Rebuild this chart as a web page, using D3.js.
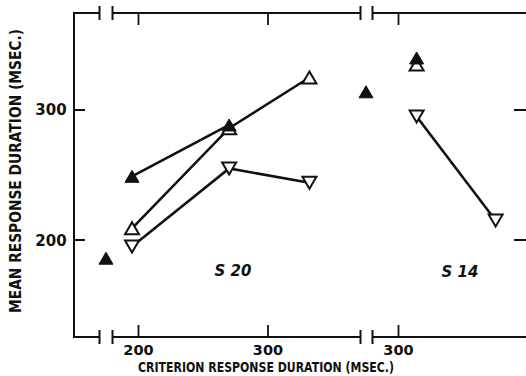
<!DOCTYPE html>
<html>
<head>
<meta charset="utf-8">
<script src="https://cdn.jsdelivr.net/npm/d3@7"></script>
<style>
  html, body { margin: 0; padding: 0; background: #fff; }
  svg text { font-family: "DejaVu Sans", sans-serif; font-weight: bold; fill: #111; }
</style>
</head>
<body>
<svg id="chart" width="526" height="376"></svg>
<script>
// Criterion response duration (msec) for S 20 panel, and the three conditions
const s20Criterion = [195, 270, 332];
const filledUpS20 = [249, 288.5];          // first two criteria only
const openUpS20 = [209, 286, 325];
const openDownS20 = [195, 255, 244];

// S 14 panel
const s14Criterion = [314, 375];
const filledUpS14 = [340];
const openUpS14 = [335];
const openDownS14 = [295, 215];

// Unrestricted (no criterion) points, drawn inside the axis breaks
const baselineS20 = [186];
const baselineS14 = [314];

const yTicks = [200, 300];
const xTicksS20 = [200, 300];
const xTicksS14 = [300];

const svg = d3.select("#chart");
const ink = "#111";

const plotTop = 13, plotBottom = 337, plotLeft = 74;
const y = d3.scaleLinear().domain([125.4, 374.6]).range([plotBottom, plotTop]);
const xS20 = d3.scaleLinear().domain([200, 300]).range([138.5, 268]);
const xS14 = d3.scaleLinear().domain([300, 400]).range([398.5, 528]);
const break1 = [99.5, 112.5], break2 = [360.5, 372.5];
const xBreak1 = (break1[0] + break1[1]) / 2;
const xBreak2 = (break2[0] + break2[1]) / 2 - 0.5;

const g = svg.append("g");

// left axis
g.append("line").attr("x1", plotLeft).attr("x2", plotLeft).attr("y1", plotTop).attr("y2", plotBottom)
  .attr("stroke", ink).attr("stroke-width", 2);

// top and bottom frame lines with breaks
function hFrame(yy, dir) {
  const segs = [[plotLeft - 1, break1[0]], [break1[1], break2[0]], [break2[1], 526]];
  segs.forEach(s => g.append("line").attr("x1", s[0]).attr("x2", s[1])
    .attr("y1", yy).attr("y2", yy).attr("stroke", ink).attr("stroke-width", 2));
  [break1[0], break1[1], break2[0], break2[1]].forEach(bx =>
    g.append("line").attr("x1", bx).attr("x2", bx).attr("y1", yy - 7).attr("y2", yy + 7)
      .attr("stroke", ink).attr("stroke-width", 2));
  const tx = xTicksS20.map(v => xS20(v)).concat(xTicksS14.map(v => xS14(v)));
  tx.forEach(t => g.append("line").attr("x1", t).attr("x2", t)
    .attr("y1", yy).attr("y2", yy + dir * 12).attr("stroke", ink).attr("stroke-width", 1.8));
}
hFrame(plotTop, 1);
hFrame(plotBottom, -1);

// y ticks on left and right
yTicks.forEach(v => {
  g.append("line").attr("x1", plotLeft).attr("x2", plotLeft + 11).attr("y1", y(v)).attr("y2", y(v))
    .attr("stroke", ink).attr("stroke-width", 2);
  g.append("line").attr("x1", 514).attr("x2", 526).attr("y1", y(v)).attr("y2", y(v))
    .attr("stroke", ink).attr("stroke-width", 2);
  g.append("text").attr("x", 51).attr("y", y(v) + 5.5).attr("text-anchor", "middle")
    .attr("font-size", 15).text(v);
});

// x tick labels
xTicksS20.forEach(v => g.append("text").attr("x", xS20(v)).attr("y", 355)
  .attr("text-anchor", "middle").attr("font-size", 14.5).text(v));
xTicksS14.forEach(v => g.append("text").attr("x", xS14(v)).attr("y", 355)
  .attr("text-anchor", "middle").attr("font-size", 14.5).text(v));

// axis titles
g.append("text").attr("x", 266).attr("y", 372).attr("text-anchor", "middle")
  .attr("font-size", 13.5).attr("textLength", 256).attr("lengthAdjust", "spacingAndGlyphs")
  .text("CRITERION RESPONSE DURATION (MSEC.)");
g.append("text").attr("transform", "translate(21,171) rotate(-90)").attr("text-anchor", "middle")
  .attr("font-size", 15).attr("textLength", 284).attr("lengthAdjust", "spacingAndGlyphs")
  .text("MEAN RESPONSE DURATION (MSEC.)");

// panel labels
g.append("text").attr("x", 233).attr("y", 276).attr("text-anchor", "middle")
  .attr("font-size", 15).attr("font-style", "italic").text("S 20");
g.append("text").attr("x", 460).attr("y", 277).attr("text-anchor", "middle")
  .attr("font-size", 15).attr("font-style", "italic").text("S 14");

// connecting lines
const line = d3.line().x(d => d[0]).y(d => d[1]);
function series(xs, ys, xScale) { return ys.map((v, i) => [xScale(xs[i]), y(v)]); }
const lines = [
  series(s20Criterion, filledUpS20, xS20),
  series(s20Criterion, openUpS20, xS20),
  series(s20Criterion, openDownS20, xS20),
  series(s14Criterion, openDownS14, xS14)
];
lines.forEach(pts => g.append("path").attr("d", line(pts)).attr("fill", "none")
  .attr("stroke", ink).attr("stroke-width", 2.6));

// markers
const W = 7, H = 6;
const upPath = `M0,${-H} L${W},${H} L${-W},${H} Z`;
const downPath = `M0,${H} L${W},${-H} L${-W},${-H} Z`;
function markers(pts, path, filled) {
  pts.forEach(p => g.append("path").attr("d", path)
    .attr("transform", `translate(${p[0]},${p[1]})`)
    .attr("fill", filled ? ink : "#fff").attr("stroke", ink)
    .attr("stroke-width", filled ? 1 : 2).attr("stroke-linejoin", "miter"));
}
markers(series(s20Criterion, openUpS20, xS20), upPath, false);
markers(series(s20Criterion, openDownS20, xS20), downPath, false);
markers(series(s14Criterion, openDownS14, xS14), downPath, false);
markers(series(s14Criterion, openUpS14, xS14), upPath, false);
markers(series(s20Criterion, filledUpS20, xS20), upPath, true);
markers(series(s14Criterion, filledUpS14, xS14), upPath, true);
markers(baselineS20.map(v => [xBreak1, y(v)]), upPath, true);
markers(baselineS14.map(v => [xBreak2, y(v)]), upPath, true);
</script>
</body>
</html>
